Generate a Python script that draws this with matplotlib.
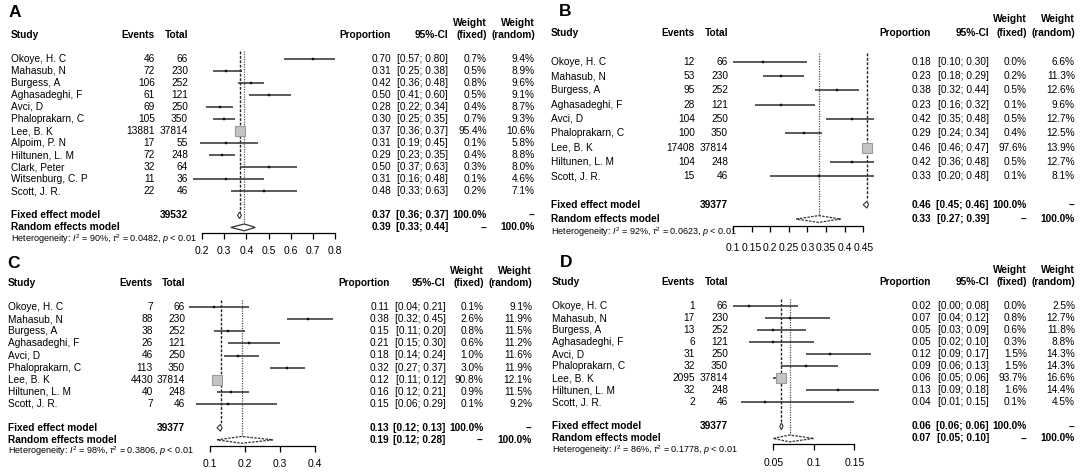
import numpy as np
import matplotlib
matplotlib.use('Agg')
import matplotlib.pyplot as plt
from matplotlib import transforms
from matplotlib.patches import Polygon

plt.rcParams['font.family'] = ['Liberation Sans', 'DejaVu Sans']
plt.rcParams['mathtext.fontset'] = 'custom'
plt.rcParams['mathtext.rm'] = 'Liberation Sans'
plt.rcParams['mathtext.it'] = 'Liberation Sans:italic'
plt.rcParams['mathtext.bf'] = 'Liberation Sans:bold'

W, H = 1084, 476

# ---- data: panel A
studies_a = ['Okoye, H. C', 'Mahasub, N', 'Burgess, A', 'Aghasadeghi, F', 'Avci, D',
             'Phaloprakarn, C', 'Lee, B. K', 'Alpoim, P. N', 'Hiltunen, L. M',
             'Clark, Peter', 'Witsenburg, C. P', 'Scott, J. R.']
events_a = [46, 72, 106, 61, 69, 105, 13881, 17, 72, 32, 11, 22]
totals_a = [66, 230, 252, 121, 250, 350, 37814, 55, 248, 64, 36, 46]
prop_a = [0.70, 0.31, 0.42, 0.50, 0.28, 0.30, 0.37, 0.31, 0.29, 0.50, 0.31, 0.48]
lo_a = [0.57, 0.25, 0.36, 0.41, 0.22, 0.25, 0.36, 0.19, 0.23, 0.37, 0.16, 0.33]
hi_a = [0.80, 0.38, 0.48, 0.60, 0.34, 0.35, 0.37, 0.45, 0.35, 0.63, 0.48, 0.63]
wfix_a = [0.7, 0.5, 0.8, 0.5, 0.4, 0.7, 95.4, 0.1, 0.4, 0.3, 0.1, 0.2]
wran_a = [9.4, 8.9, 9.6, 9.1, 8.7, 9.3, 10.6, 5.8, 8.8, 8.0, 4.6, 7.1]
fixed_a = [0.37, 0.36, 0.37]
random_a = [0.39, 0.33, 0.44]
n_total_a = 39532
het_a = ['90%', '0.0482', '0.01']
ticks_a = [0.2, 0.3, 0.4, 0.5, 0.6, 0.7, 0.8]
ticklabels_a = ['0.2', '0.3', '0.4', '0.5', '0.6', '0.7', '0.8']

# ---- data: panels B, C, D share the same studies
studies_bcd = ['Okoye, H. C', 'Mahasub, N', 'Burgess, A', 'Aghasadeghi, F', 'Avci, D',
               'Phaloprakarn, C', 'Lee, B. K', 'Hiltunen, L. M', 'Scott, J. R.']
totals_bcd = [66, 230, 252, 121, 250, 350, 37814, 248, 46]

events_b = [12, 53, 95, 28, 104, 100, 17408, 104, 15]
prop_b = [0.18, 0.23, 0.38, 0.23, 0.42, 0.29, 0.46, 0.42, 0.33]
lo_b = [0.10, 0.18, 0.32, 0.16, 0.35, 0.24, 0.46, 0.36, 0.20]
hi_b = [0.30, 0.29, 0.44, 0.32, 0.48, 0.34, 0.47, 0.48, 0.48]
wfix_b = [0.0, 0.2, 0.5, 0.1, 0.5, 0.4, 97.6, 0.5, 0.1]
wran_b = [6.6, 11.3, 12.6, 9.6, 12.7, 12.5, 13.9, 12.7, 8.1]
fixed_b = [0.46, 0.45, 0.46]
random_b = [0.33, 0.27, 0.39]
n_total_b = 39377
het_b = ['92%', '0.0623', '0.01']
ticks_b = [0.1, 0.15, 0.2, 0.25, 0.3, 0.35, 0.4, 0.45]
ticklabels_b = ['0.1', '0.15', '0.2', '0.25', '0.3', '0.35', '0.4', '0.45']

events_c = [7, 88, 38, 26, 46, 113, 4430, 40, 7]
prop_c = [0.11, 0.38, 0.15, 0.21, 0.18, 0.32, 0.12, 0.16, 0.15]
lo_c = [0.04, 0.32, 0.11, 0.15, 0.14, 0.27, 0.11, 0.12, 0.06]
hi_c = [0.21, 0.45, 0.20, 0.30, 0.24, 0.37, 0.12, 0.21, 0.29]
wfix_c = [0.1, 2.6, 0.8, 0.6, 1.0, 3.0, 90.8, 0.9, 0.1]
wran_c = [9.1, 11.9, 11.5, 11.2, 11.6, 11.9, 12.1, 11.5, 9.2]
fixed_c = [0.13, 0.12, 0.13]
random_c = [0.19, 0.12, 0.28]
n_total_c = 39377
het_c = ['98%', '0.3806', '0.01']
ticks_c = [0.1, 0.2, 0.3, 0.4]
ticklabels_c = ['0.1', '0.2', '0.3', '0.4']

events_d = [1, 17, 13, 6, 31, 32, 2095, 32, 2]
prop_d = [0.02, 0.07, 0.05, 0.05, 0.12, 0.09, 0.06, 0.13, 0.04]
lo_d = [0.00, 0.04, 0.03, 0.02, 0.09, 0.06, 0.05, 0.09, 0.01]
hi_d = [0.08, 0.12, 0.09, 0.10, 0.17, 0.13, 0.06, 0.18, 0.15]
wfix_d = [0.0, 0.8, 0.6, 0.3, 1.5, 1.5, 93.7, 1.6, 0.1]
wran_d = [2.5, 12.7, 11.8, 8.8, 14.3, 14.3, 16.6, 14.4, 4.5]
fixed_d = [0.06, 0.06, 0.06]
random_d = [0.07, 0.05, 0.10]
n_total_d = 39377
het_d = ['86%', '0.1778', '0.01']
ticks_d = [0.05, 0.1, 0.15]
ticklabels_d = ['0.05', '0.1', '0.15']

FS = 7.3
fig = plt.figure(figsize=(W / 100, H / 100), dpi=100)


def draw_panel(letter, letter_xy, px_range, scale, rows, cols,
               studies, events, totals, prop, lo, hi, wfix, wran,
               fixed, random, n_total, het, ticks, ticklabels):
    x0, x1 = px_range
    px_ref, v_ref, ppu = scale          # pixel of v_ref, pixels per unit
    y0, sp = rows                        # pixel y of first study row, row spacing
    n = len(studies)
    r_top, r_bot = -4.0, n + 5.0
    ytop, ybot = y0 + r_top * sp, y0 + r_bot * sp
    ax = fig.add_axes([x0 / W, 1 - ybot / H, (x1 - x0) / W, (ybot - ytop) / H])
    ax.set_xlim(v_ref + (x0 - px_ref) / ppu, v_ref + (x1 - px_ref) / ppu)
    ax.set_ylim(r_bot, r_top)
    ax.patch.set_alpha(0)
    for s in ['top', 'left', 'right']:
        ax.spines[s].set_visible(False)
    ax.spines['bottom'].set_position(('data', n + 2.5))
    ax.spines['bottom'].set_bounds(ticks[0], ticks[-1])
    ax.spines['bottom'].set_linewidth(0.9)
    ax.set_yticks([])
    ax.set_xticks(ticks)
    ax.tick_params(axis='x', direction='out', length=4, width=0.9, labelbottom=False)
    for t, lab in zip(ticks, ticklabels):
        ax.text(t, n + 4.0, lab, ha='center', va='center', fontsize=FS + 0.2)

    tr = transforms.blended_transform_factory(fig.transFigure, ax.transData)
    sx, ex, tx, prx, cix, wfx, wrx = [c / W for c in cols]

    # header
    bold = dict(fontsize=FS, fontweight='bold', va='center', transform=tr)
    ax.text(sx, -2, 'Study', ha='left', **bold)
    ax.text(ex, -2, 'Events', ha='right', **bold)
    ax.text(tx, -2, 'Total', ha='right', **bold)
    ax.text(prx, -2, 'Proportion', ha='right', **bold)
    ax.text(cix, -2, '95%-CI', ha='right', **bold)
    ax.text(wfx, -3, 'Weight', ha='right', **bold)
    ax.text(wfx, -2, '(fixed)', ha='right', **bold)
    ax.text(wrx, -3, 'Weight', ha='right', **bold)
    ax.text(wrx, -2, '(random)', ha='right', **bold)

    norm = dict(fontsize=FS, va='center', transform=tr)
    for i in range(n):
        ax.text(sx, i, studies[i], ha='left', **norm)
        ax.text(ex, i, str(events[i]), ha='right', **norm)
        ax.text(tx, i, str(totals[i]), ha='right', **norm)
        ax.text(prx, i, f'{prop[i]:.2f}', ha='right', **norm)
        ax.text(cix, i, f'[{lo[i]:.2f}; {hi[i]:.2f}]', ha='right', **norm)
        ax.text(wfx, i, f'{wfix[i]:.1f}%', ha='right', **norm)
        ax.text(wrx, i, f'{wran[i]:.1f}%', ha='right', **norm)

        ax.plot([lo[i], hi[i]], [i, i], color='#2e2e2e', lw=1.1, zorder=3,
                solid_capstyle='butt')
        side = max(2.0, 10.5 * np.sqrt(wfix[i] / 95.0))
        if side > 4:
            ax.plot(prop[i], i, marker='s', ms=side * 0.72, mfc='#c4c4c4',
                    mec='#9a9a9a', mew=0.8, zorder=4)
        else:
            ax.plot(prop[i], i, marker='s', ms=side * 0.72, mfc='#111111',
                    mec='#111111', mew=0.3, zorder=4)

    rf, rr = n + 1, n + 2
    ax.text(sx, rf, 'Fixed effect model', ha='left', **bold)
    ax.text(tx, rf, str(n_total), ha='right', **bold)
    ax.text(prx, rf, f'{fixed[0]:.2f}', ha='right', **bold)
    ax.text(cix, rf, f'[{fixed[1]:.2f}; {fixed[2]:.2f}]', ha='right', **bold)
    ax.text(wfx, rf, '100.0%', ha='right', **bold)
    ax.text(wrx, rf, '--', ha='right', **bold)
    ax.text(sx, rr, 'Random effects model', ha='left', **bold)
    ax.text(prx, rr, f'{random[0]:.2f}', ha='right', **bold)
    ax.text(cix, rr, f'[{random[1]:.2f}; {random[2]:.2f}]', ha='right', **bold)
    ax.text(wfx, rr, '--', ha='right', **bold)
    ax.text(wrx, rr, '100.0%', ha='right', **bold)

    ax.text(sx, n + 2.95,
            rf'Heterogeneity: $I^2$ = {het[0]}, $\tau^2$ = {het[1]}, $p$ < {het[2]}',
            ha='left', va='center', fontsize=6.5, transform=tr)

    # summary lines
    ax.plot([fixed[0], fixed[0]], [-0.6, rf - 0.3], color='#222222', lw=1.0,
            ls=(0, (2.0, 1.2)), zorder=2)
    ax.plot([random[0], random[0]], [-0.6, rr - 0.25], color='#555555', lw=0.9,
            ls=(0, (1, 1)), zorder=2)

    hh = 3.4 / sp
    minw = 1.6 / ppu
    fl, fh = min(fixed[1], fixed[0] - minw), max(fixed[2], fixed[0] + minw)
    ax.add_patch(Polygon([[fl, rf], [fixed[0], rf - hh], [fh, rf], [fixed[0], rf + hh]],
                         closed=True, fc='white', ec='#333333', lw=0.8, zorder=5))
    ax.add_patch(Polygon([[random[1], rr], [random[0], rr - hh], [random[2], rr],
                          [random[0], rr + hh]],
                         closed=True, fc='white', ec='#333333', lw=0.9, zorder=5,
                         ls='-' if letter == 'A' else (0, (2, 1))))

    fig.text(letter_xy[0] / W, 1 - letter_xy[1] / H, letter, fontsize=12.5,
             fontweight='bold', ha='center', va='center')


draw_panel('A', (14.5, 12.5), (0, 540), (202, 0.2, 222), (58.7, 12.05),
           (11, 155, 188, 391, 448, 487, 535),
           studies_a, events_a, totals_a, prop_a, lo_a, hi_a, wfix_a, wran_a,
           fixed_a, random_a, n_total_a, het_a, ticks_a, ticklabels_a)
draw_panel('B', (565, 11.5), (542, 1084), (733, 0.1, 372), (61.7, 14.3),
           (551, 695, 728, 931, 989, 1027, 1075),
           studies_bcd, events_b, totals_bcd, prop_b, lo_b, hi_b, wfix_b, wran_b,
           fixed_b, random_b, n_total_b, het_b, ticks_b, ticklabels_b)
draw_panel('C', (13.5, 263), (0, 540), (210, 0.1, 350), (307.3, 12.05),
           (8, 153, 185, 389.5, 445.5, 483.5, 532),
           studies_bcd, events_c, totals_bcd, prop_c, lo_c, hi_c, wfix_c, wran_c,
           fixed_c, random_c, n_total_c, het_c, ticks_c, ticklabels_c)
draw_panel('D', (566, 262.5), (542, 1084), (773.3, 0.05, 810), (306, 12.04),
           (552, 695, 728, 931, 989, 1027, 1075),
           studies_bcd, events_d, totals_bcd, prop_d, lo_d, hi_d, wfix_d, wran_d,
           fixed_d, random_d, n_total_d, het_d, ticks_d, ticklabels_d)

fig.savefig('out.png', dpi=100)
